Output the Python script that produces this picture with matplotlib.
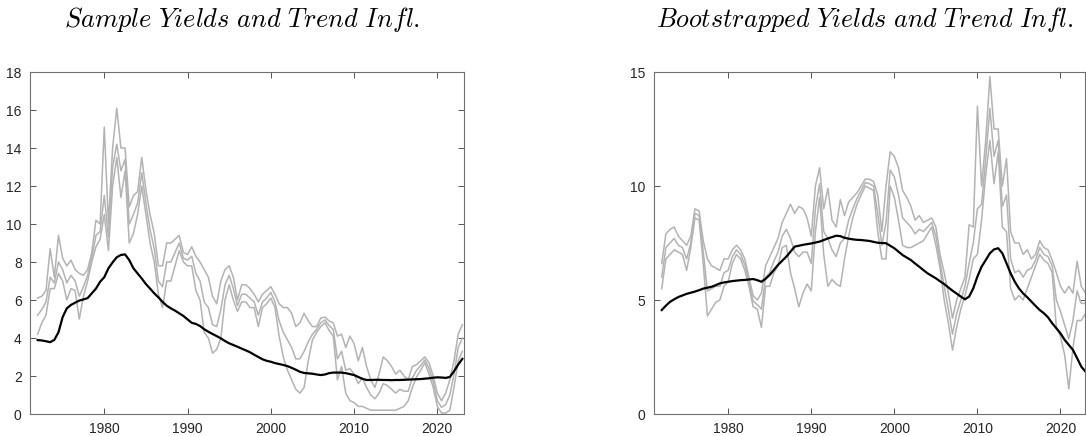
import matplotlib
matplotlib.use("Agg")
import matplotlib.pyplot as plt
import numpy as np

# half-year grid, 1972.0 ... 2023.0
years = np.arange(1972.0, 2023.01, 0.5)

# ---- left panel: sample yields (upper / middle / lower edge of the band) ----
sample_hi = [6.1, 6.2, 6.5, 8.7, 7.2, 9.4, 8.2, 7.8, 8.1, 7.6,
             7.4, 7.3, 7.6, 8.5, 10.2, 10.0, 15.1, 10.0, 14.0, 16.1,
             14.0, 14.0, 10.9, 11.5, 11.7, 13.5, 11.8, 10.5, 9.5, 7.8,
             7.8, 9.0, 9.0, 9.2, 9.4, 8.5, 8.4, 8.8, 8.3, 8.0,
             7.6, 7.2, 6.2, 5.8, 7.0, 7.6, 7.8, 7.2, 6.0, 6.8,
             6.8, 6.6, 6.3, 5.9, 6.3, 6.5, 6.7, 6.3, 5.8, 5.6,
             5.6, 5.3, 4.6, 4.8, 5.3, 4.9, 4.6, 4.6, 5.05, 5.1,
             4.9, 4.8, 4.1, 4.2, 3.5, 4.1, 3.7, 2.8, 3.5, 2.5,
             1.8, 1.4, 2.1, 3.0, 2.8, 2.5, 2.1, 2.3, 2.0, 1.8,
             2.5, 2.6, 2.8, 3.0, 2.7, 2.0, 1.1, 0.7, 1.1, 1.8,
             2.8, 4.2, 4.7]
sample_mid = [5.2, 5.5, 5.9, 7.2, 6.9, 8.0, 7.6, 6.9, 7.3, 7.0,
              6.2, 6.7, 7.3, 8.2, 9.4, 9.6, 11.5, 9.3, 13.0, 14.2,
              12.8, 13.4, 10.0, 10.5, 11.1, 12.7, 11.1, 9.7, 8.7, 7.0,
              6.7, 8.0, 8.0, 8.5, 9.0, 8.2, 8.1, 8.3, 7.4, 7.0,
              5.9, 5.6, 4.7, 4.6, 5.5, 6.8, 7.3, 6.6, 5.7, 6.3,
              6.3, 6.1, 5.9, 5.2, 5.9, 6.1, 6.4, 5.9, 4.9, 4.3,
              3.9, 3.5, 2.9, 2.9, 3.3, 3.8, 4.2, 4.45, 4.8, 4.95,
              4.65, 4.45, 2.9, 3.3, 2.3, 2.4, 2.1, 1.6, 1.9, 1.4,
              1.0, 0.8, 1.1, 1.6, 1.5, 1.3, 1.1, 1.3, 1.2, 1.2,
              1.9, 2.3, 2.55, 2.85, 2.4, 1.7, 0.7, 0.35, 0.5, 1.0,
              2.1, 3.5, 4.0]
sample_lo = [4.2, 4.8, 5.2, 6.6, 6.6, 7.4, 7.0, 6.0, 6.6, 6.5,
             5.0, 6.2, 7.0, 8.0, 8.8, 9.2, 10.5, 8.6, 12.0, 13.5,
             11.4, 12.8, 9.0, 9.5, 10.5, 12.0, 10.5, 9.0, 8.0, 6.3,
             5.6, 7.0, 7.0, 7.8, 8.6, 8.0, 7.8, 7.8, 6.5, 6.0,
             4.3, 4.0, 3.2, 3.4, 4.0, 6.0, 6.8, 6.0, 5.4, 5.9,
             5.9, 5.6, 5.6, 4.6, 5.6, 5.8, 6.1, 5.6, 4.1, 3.0,
             2.3, 1.8, 1.3, 1.1, 1.4, 2.8, 3.9, 4.3, 4.6, 4.8,
             4.4, 4.1, 1.8, 2.5, 1.1, 0.7, 0.6, 0.4, 0.4, 0.3,
             0.2, 0.2, 0.2, 0.2, 0.2, 0.2, 0.2, 0.3, 0.4, 0.7,
             1.4, 1.95, 2.3, 2.7, 2.1, 1.4, 0.4, 0.05, 0.05, 0.2,
             1.4, 2.8, 3.3]
sample_trend = [3.89, 3.87, 3.83, 3.78, 3.9, 4.3, 5.1, 5.56, 5.74, 5.86,
                5.97, 6.03, 6.1, 6.35, 6.6, 6.96, 7.2, 7.67, 7.98, 8.25,
                8.37, 8.4, 8.1, 7.67, 7.4, 7.13, 6.84, 6.6, 6.35, 6.14,
                5.9, 5.7, 5.56, 5.44, 5.3, 5.16, 4.98, 4.8, 4.74, 4.63,
                4.46, 4.33, 4.21, 4.1, 3.98, 3.84, 3.72, 3.63, 3.54, 3.44,
                3.35, 3.25, 3.12, 3.0, 2.88, 2.8, 2.75, 2.68, 2.63, 2.58,
                2.52, 2.43, 2.33, 2.22, 2.16, 2.14, 2.12, 2.08, 2.05, 2.08,
                2.15, 2.18, 2.18, 2.18, 2.15, 2.1, 2.05, 1.95, 1.85, 1.79,
                1.79, 1.8, 1.8, 1.79, 1.79, 1.78, 1.79, 1.79, 1.8, 1.81,
                1.82, 1.83, 1.84, 1.86, 1.88, 1.91, 1.93, 1.92, 1.9, 1.95,
                2.25, 2.6, 2.9]

# ---- right panel: bootstrapped yields ----
boot_hi = [6.6, 7.9, 8.1, 8.2, 7.8, 7.6, 7.4, 7.8, 9.0, 8.9,
           7.6, 6.8, 6.5, 6.4, 6.3, 6.8, 6.8, 7.2, 7.4, 7.2,
           6.8, 6.0, 5.2, 5.0, 5.3, 6.5, 6.9, 7.3, 7.7, 8.4,
           8.8, 9.2, 8.8, 9.1, 9.0, 8.6, 7.8, 10.0, 10.8, 9.0,
           9.9, 8.5, 8.2, 9.4, 8.7, 9.3, 9.5, 9.7, 10.0, 10.3,
           10.3, 10.2, 9.6, 8.0, 10.0, 11.5, 11.3, 10.8, 9.8, 9.5,
           9.1, 8.5, 8.7, 8.4, 8.5, 8.6, 8.2, 7.0, 6.2, 5.3,
           4.2, 5.0, 5.5, 6.0, 8.3, 8.2, 13.5, 10.0, 12.0, 14.8,
           12.5, 12.5, 10.0, 11.2, 8.0, 7.5, 7.5, 7.0, 7.2, 6.8,
           7.0, 7.6, 7.3, 7.2, 6.75, 6.2, 5.6, 5.3, 5.6, 5.3,
           6.7, 5.6, 5.3]
boot_mid = [6.0, 7.3, 7.5, 7.7, 7.4, 7.3, 6.8, 7.5, 8.8, 8.7,
            7.1, 5.4, 5.5, 5.6, 5.6, 6.2, 6.3, 6.9, 7.2, 7.0,
            6.55, 5.8, 4.95, 4.8, 4.6, 6.0, 6.2, 6.7, 7.1, 7.8,
            8.1, 7.7, 7.1, 6.9, 7.1, 7.1, 6.6, 9.0, 10.1, 8.0,
            7.7, 7.2, 6.9, 7.5, 7.7, 8.5, 9.0, 9.45, 9.8, 10.15,
            10.1, 10.0, 8.8, 7.4, 8.4, 10.7, 10.4, 9.6, 8.6, 8.4,
            8.2, 7.9, 8.1, 8.0, 8.2, 8.4, 7.8, 6.7, 5.6, 4.6,
            3.5, 4.4, 5.0, 5.6, 6.6, 7.5, 9.0, 9.2, 11.2, 13.4,
            11.3, 12.0, 9.1, 9.6, 6.8, 6.2, 6.3, 6.0, 6.3, 6.4,
            6.75, 7.3, 7.0, 6.9, 6.5, 5.0, 4.5, 3.9, 3.3, 4.1,
            5.4, 4.85, 4.85]
boot_lo = [5.5, 6.8, 7.0, 7.2, 7.1, 7.0, 6.3, 7.3, 8.6, 8.5,
           6.6, 4.3, 4.6, 4.9, 5.0, 5.6, 5.8, 6.6, 7.0, 6.8,
           6.3, 5.6, 4.7, 4.6, 3.8, 5.6, 5.6, 6.2, 6.5, 7.3,
           7.4, 6.2, 5.5, 4.7, 5.3, 5.7, 5.4, 8.0, 9.5, 7.0,
           5.6, 5.9, 5.7, 5.6, 6.8, 7.8, 8.6, 9.2, 9.6, 10.0,
           9.9, 9.8, 8.0, 6.8, 6.8, 10.0, 9.5, 8.5, 7.4, 7.3,
           7.3, 7.4, 7.5, 7.6, 7.9, 8.2, 7.4, 6.4, 5.0, 4.0,
           2.8, 3.8, 4.6, 5.2, 5.9, 6.8, 7.0, 8.5, 10.5, 12.0,
           10.1, 11.5, 8.2, 8.0, 5.5, 5.0, 5.2, 5.0, 5.5, 6.0,
           6.5, 7.0, 6.75, 6.6, 6.2, 3.8, 3.4, 2.6, 1.1, 2.9,
           4.1, 4.1, 4.4]
boot_trend = [4.56, 4.75, 4.92, 5.03, 5.13, 5.2, 5.27, 5.32, 5.37, 5.43,
              5.5, 5.54, 5.58, 5.65, 5.73, 5.77, 5.8, 5.83, 5.85, 5.87,
              5.88, 5.9, 5.92, 5.87, 5.8, 5.93, 6.1, 6.32, 6.54, 6.72,
              6.9, 7.12, 7.34, 7.38, 7.42, 7.45, 7.48, 7.52, 7.56, 7.63,
              7.7, 7.76, 7.82, 7.8, 7.73, 7.69, 7.66, 7.64, 7.63, 7.61,
              7.59, 7.55, 7.51, 7.5, 7.49, 7.38, 7.27, 7.12, 6.97, 6.86,
              6.75, 6.6, 6.46, 6.31, 6.17, 6.06, 5.95, 5.82, 5.7, 5.55,
              5.41, 5.28, 5.15, 5.03, 5.15, 5.51, 6.03, 6.46, 6.75, 7.05,
              7.22, 7.27, 7.05, 6.61, 6.17, 5.8, 5.51, 5.29, 5.12, 4.93,
              4.74, 4.56, 4.42, 4.24, 3.98, 3.76, 3.54, 3.25, 3.03, 2.81,
              2.45, 2.08, 1.86]

year_ticks = [1980, 1990, 2000, 2010, 2020]
titles = ["Sample Yields and Trend Infl.", "Bootstrapped Yields and Trend Infl."]

plt.rcParams["font.family"] = ["Liberation Sans", "DejaVu Sans"]
plt.rcParams["mathtext.fontset"] = "cm"

W, H = 1086, 436
fig = plt.figure(figsize=(W / 100, H / 100), dpi=100)
ax1 = fig.add_axes([30 / W, 22 / H, 434 / W, 342 / H])
ax2 = fig.add_axes([654 / W, 22 / H, 431 / W, 342 / H])

gray = "#b3b3b3"
for ax, series, trend in [(ax1, [sample_hi, sample_mid, sample_lo], sample_trend),
                          (ax2, [boot_hi, boot_mid, boot_lo], boot_trend)]:
    for s in series:
        ax.plot(years, s, color=gray, lw=1.1)
    ax.plot(years, trend, color="black", lw=1.6)
    ax.set_xticks(year_ticks)
    ax.tick_params(direction="in", top=True, right=True, length=4, width=0.7,
                   color="#555555", labelcolor="#262626", labelsize=10, pad=6)
    for sp in ax.spines.values():
        sp.set_color("#707070")
        sp.set_linewidth(0.8)

ax1.set_xlim(1971.08, 2023.2)
ax1.set_ylim(0, 18)
ax1.set_yticks(range(0, 19, 2))
ax2.set_xlim(1971.07, 2022.95)
ax2.set_ylim(0, 15)
ax2.set_yticks([0, 5, 10, 15])


def math_italic(s):
    return r"$\mathit{" + s.replace(" ", r"\ ") + "}$"


fig.text(242 / W, 1 - 19 / H, math_italic(titles[0]), fontsize=19,
         ha="center", va="center")
fig.text(865 / W, 1 - 19 / H, math_italic(titles[1]), fontsize=18.7,
         ha="center", va="center")

fig.savefig("out.png", dpi=100)
